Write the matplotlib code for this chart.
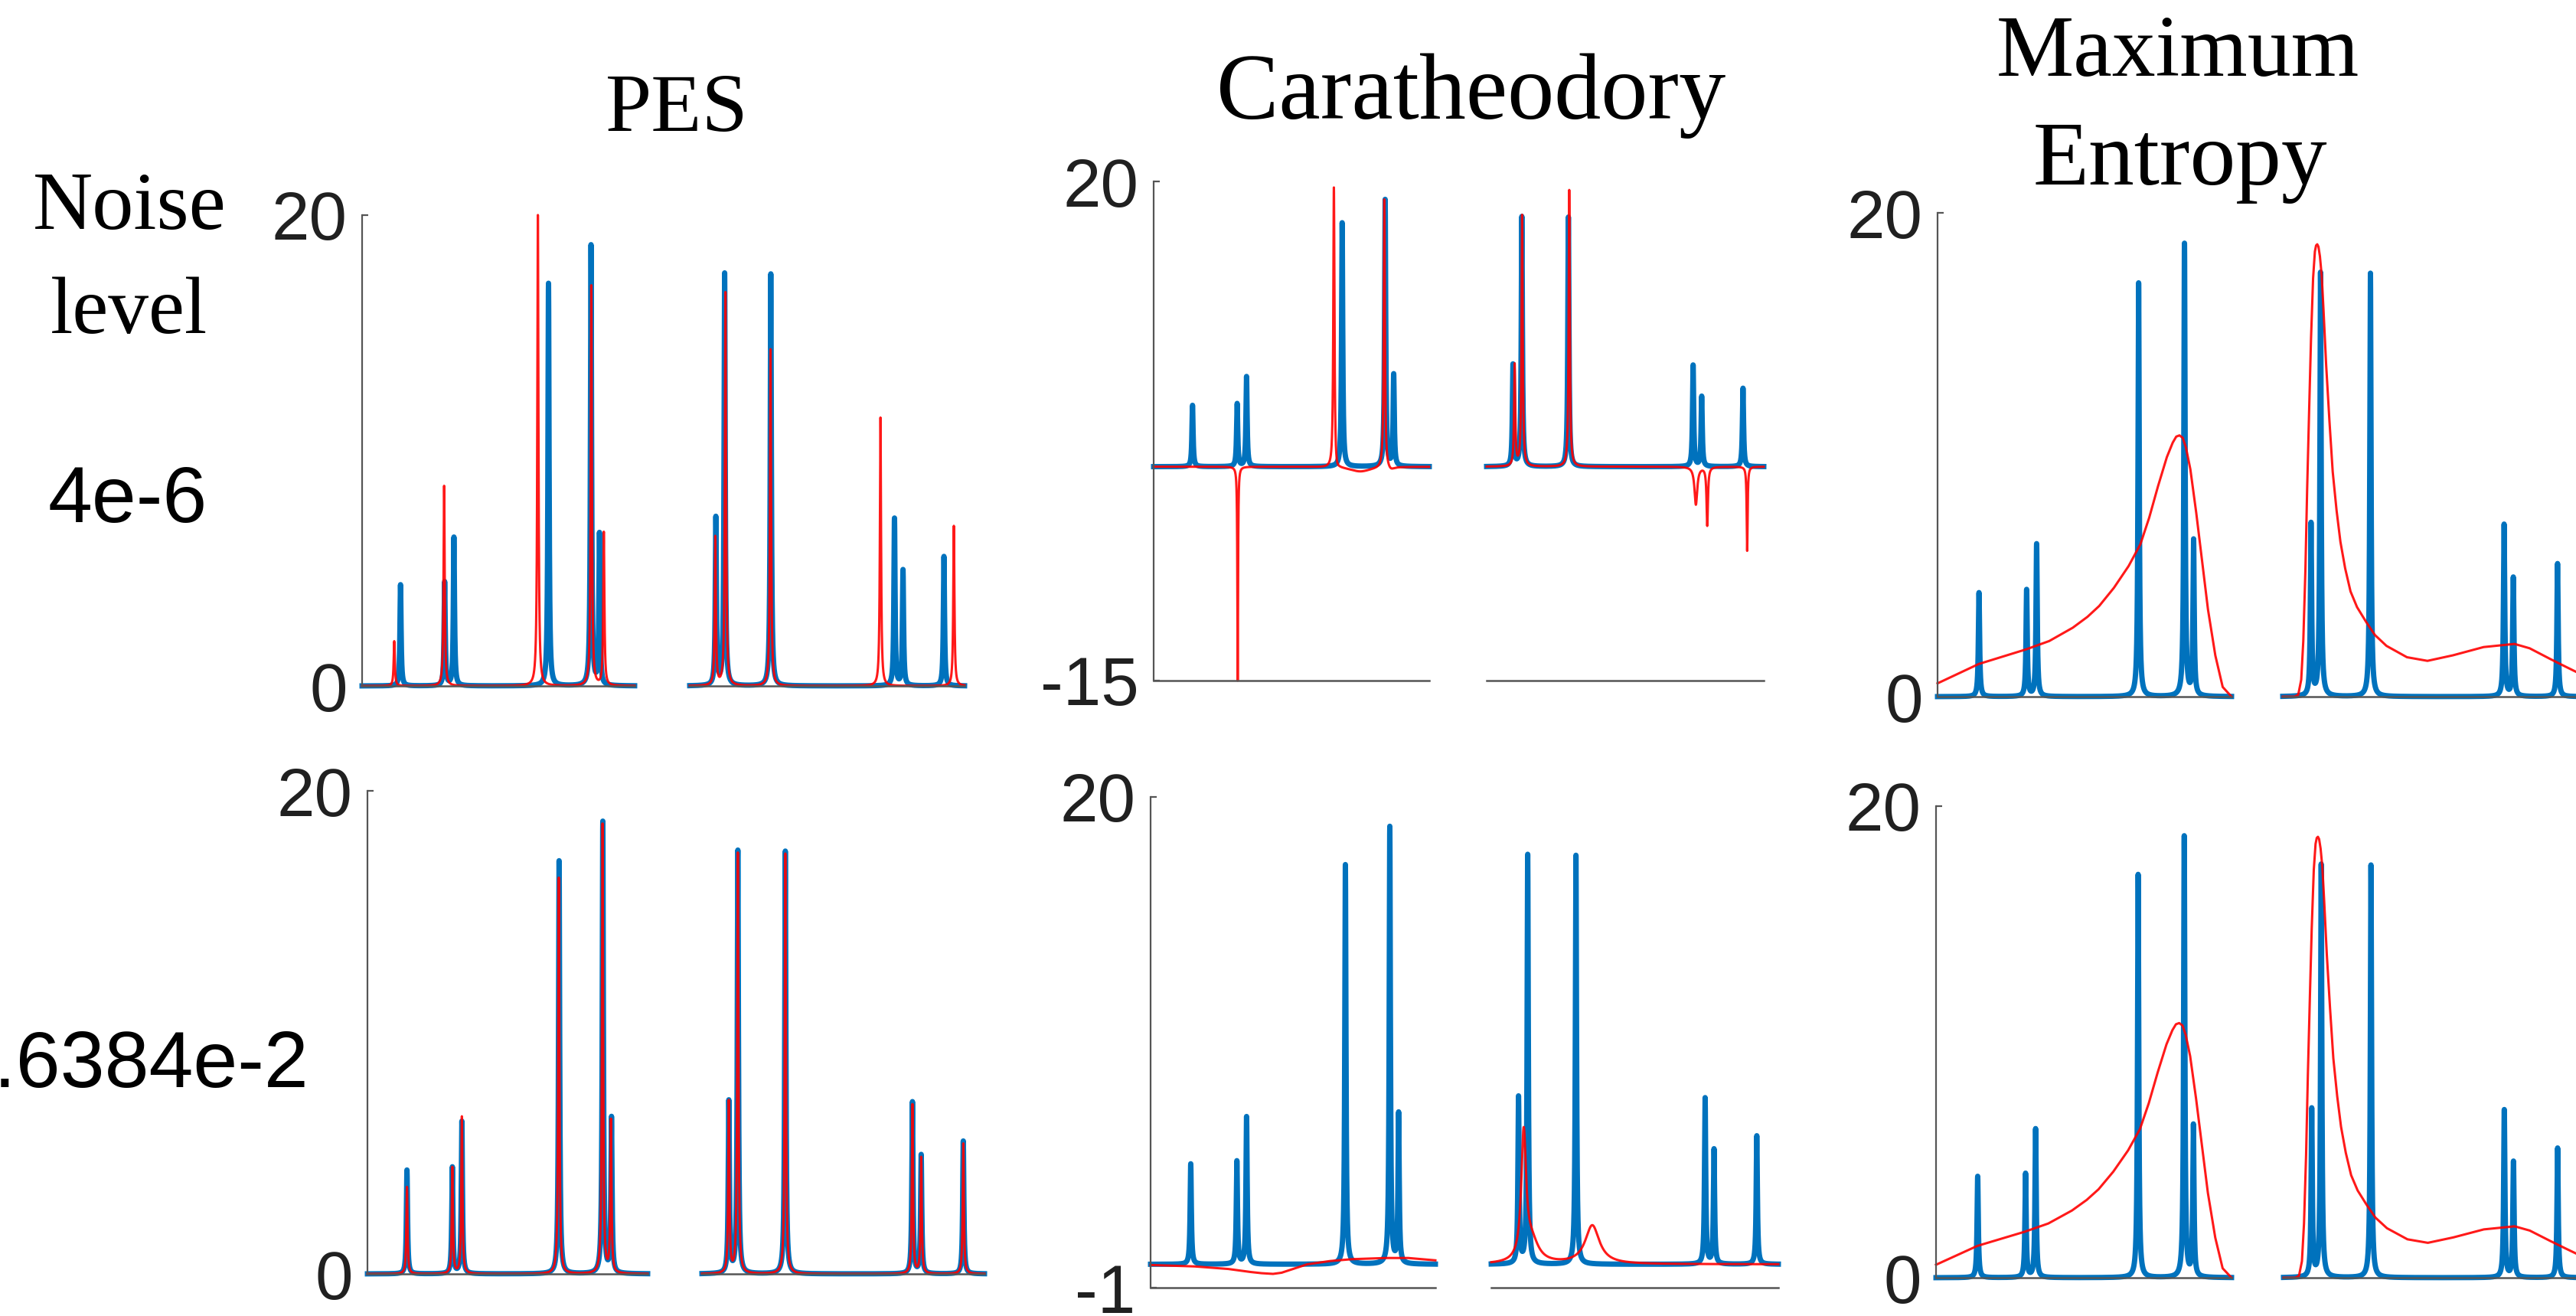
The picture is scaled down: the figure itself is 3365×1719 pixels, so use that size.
import numpy as np
import matplotlib.pyplot as plt

plt.rcParams['axes.unicode_minus'] = False

# ---------------- data (x = position inside each of the two windows, 0..1) ----------------

# exact spectrum (blue), left and right window
true_left_pos = [0.141, 0.303, 0.337, 0.684, 0.840, 0.871]
true_left_amp = [4.3, 4.4, 6.3, 17.1, 18.7, 6.4]
true_right_pos = [0.095, 0.127, 0.295, 0.745, 0.776, 0.925]
true_right_amp = [7.1, 17.5, 17.5, 7.1, 4.9, 5.5]

# PES, noise 4e-6
pes1_left_pos = [0.118, 0.301, 0.645, 0.841, 0.887]
pes1_left_amp = [1.9, 8.5, 20.0, 17.0, 6.5]
pes1_right_pos = [0.093, 0.130, 0.294, 0.694, 0.961]
pes1_right_amp = [6.3, 16.7, 14.3, 11.4, 6.8]

# PES, noise 1.6384e-2
pes2_left_pos = [0.141, 0.303, 0.337, 0.683, 0.839, 0.869]
pes2_left_amp = [3.6, 4.4, 6.5, 16.4, 18.6, 6.3]
pes2_right_pos = [0.095, 0.127, 0.295, 0.745, 0.776, 0.925]
pes2_right_amp = [7.1, 17.4, 17.4, 7.0, 4.8, 5.4]

# Caratheodory, noise 4e-6 (position, height, half width)
cara1_left_pos = [0.305, 0.654, 0.662, 0.75, 0.837, 0.86]
cara1_left_amp = [-15.0, 19.9, -0.5, -0.35, 18.9, -0.25]
cara1_left_hw = [0.0015, 0.0025, 0.008, 0.05, 0.0025, 0.015]
cara1_right_pos = [0.101, 0.128, 0.298, 0.755, 0.796, 0.94]
cara1_right_amp = [7.1, 17.6, 19.4, -2.65, -4.1, -5.9]
cara1_right_hw = [0.0025, 0.0025, 0.0025, 0.006, 0.003, 0.002]

# Caratheodory, noise 1.6384e-2
cara2_left_x = [0.0, 0.154, 0.273, 0.352, 0.39, 0.43, 0.46, 0.49, 0.55, 0.63, 0.708, 0.826, 0.905, 1.0]
cara2_left_y = [-0.03, -0.09, -0.2, -0.33, -0.38, -0.41, -0.36, -0.24, 0.0, 0.14, 0.22, 0.27, 0.27, 0.17]
cara2_right_pos = [0.113, 0.14, 0.352]
cara2_right_amp = [5.35, 0.9, 1.65]
cara2_right_hw = [0.01, 0.03, 0.03]

# Maximum entropy (same picture for both noise levels)
maxent_left_x = [0.0, 0.07, 0.14, 0.22, 0.30, 0.38, 0.46, 0.51, 0.55, 0.60, 0.65, 0.69, 0.72, 0.75,
                 0.78, 0.80, 0.812, 0.823, 0.834, 0.845, 0.86, 0.88, 0.90, 0.92, 0.945, 0.97, 1.0]
maxent_left_y = [0.55, 0.95, 1.35, 1.65, 1.95, 2.3, 2.85, 3.3, 3.75, 4.5, 5.4, 6.3, 7.4, 8.7,
                 9.9, 10.5, 10.75, 10.8, 10.7, 10.3, 9.4, 7.6, 5.6, 3.6, 1.7, 0.4, 0.0]
maxent_right_x = [0.0, 0.04, 0.052, 0.062, 0.069, 0.076, 0.082, 0.089, 0.095, 0.102, 0.108, 0.112,
                  0.116, 0.12, 0.125, 0.131, 0.137, 0.146, 0.157, 0.168, 0.181, 0.194, 0.21, 0.228,
                  0.25, 0.28, 0.31, 0.349, 0.418, 0.487, 0.573, 0.676, 0.78, 0.831, 0.90, 0.952, 1.0]
maxent_right_y = [0.0, 0.0, 0.08, 0.7, 2.3, 5.2, 8.6, 12.0, 14.8, 17.3, 18.4, 18.65,
                  18.7, 18.6, 18.2, 17.4, 16.0, 13.7, 11.4, 9.3, 7.7, 6.4, 5.3, 4.35,
                  3.7, 3.1, 2.55, 2.1, 1.63, 1.48, 1.71, 2.05, 2.18, 2.0, 1.56, 1.24, 0.95]

methods = ['PES', 'Caratheodory', 'Maximum', 'Entropy']
noise_levels = ['4e-6', '1.6384e-2']
ylims = [[(0, 20), (-15, 20), (0, 20)],
         [(0, 20), (-1, 20), (0, 20)]]

# ---------------- drawing ----------------
W, H = 3365, 1719
fig = plt.figure(figsize=(W / 100, H / 100), dpi=100)

def px_box(x0, x1, y0, y1):
    return [x0 / W, 1 - y1 / H, (x1 - x0) / W, (y1 - y0) / H]

xs = np.linspace(0, 1, 6001)
HW = 0.0025

def lorentz(pos, amp, hw=None):
    if hw is None:
        hw = [HW] * len(pos)
    y = np.zeros_like(xs)
    for p, a, w in zip(pos, amp, hw):
        y += a * w ** 2 / (w ** 2 + (xs - p) ** 2)
    return y

blue = (lorentz(true_left_pos, true_left_amp), lorentz(true_right_pos, true_right_amp))

red = {
    (0, 0): ((xs, lorentz(pes1_left_pos, pes1_left_amp)), (xs, lorentz(pes1_right_pos, pes1_right_amp))),
    (1, 0): ((xs, lorentz(pes2_left_pos, pes2_left_amp)), (xs, lorentz(pes2_right_pos, pes2_right_amp))),
    (0, 1): ((xs, lorentz(cara1_left_pos, cara1_left_amp, cara1_left_hw)),
             (xs, lorentz(cara1_right_pos, cara1_right_amp, cara1_right_hw))),
    (1, 1): ((cara2_left_x, cara2_left_y),
             (xs, lorentz(cara2_right_pos, cara2_right_amp, cara2_right_hw))),
    (0, 2): ((maxent_left_x, maxent_left_y), (maxent_right_x, maxent_right_y)),
    (1, 2): ((maxent_left_x, maxent_left_y), (maxent_right_x, maxent_right_y)),
}

# pixel boxes of the two windows of each panel
boxes = {
    (0, 0): ((473, 829, 281, 896), (901, 1260, 281, 896)),
    (0, 1): ((1507, 1867, 237, 889), (1942, 2304, 237, 889)),
    (0, 2): ((2531, 2915, 278, 910), (2982, 3370, 278, 910)),
    (1, 0): ((480, 846, 1033, 1664), (917, 1286, 1033, 1664)),
    (1, 1): ((1503, 1875, 1041, 1682), (1948, 2323, 1041, 1682)),
    (1, 2): ((2529, 2915, 1053, 1669), (2983, 3370, 1053, 1669)),
}

axcol = '#555555'
for (r, c), pair in boxes.items():
    lo, hi = ylims[r][c]
    for k in range(2):
        ax = fig.add_axes(px_box(*pair[k]))
        ax.set_xlim(0, 1)
        ax.set_ylim(lo, hi)
        ax.plot(xs, blue[k], color='#0072BD', lw=5, solid_joinstyle='round', clip_on=False)
        rx, ry = red[(r, c)][k]
        ax.plot(rx, ry, color='#FF0000', lw=2.2, alpha=0.9, clip_on=False)
        for s in ['top', 'right']:
            ax.spines[s].set_visible(False)
        ax.spines['bottom'].set_color(axcol)
        ax.spines['bottom'].set_linewidth(1.8)
        ax.set_xticks([])
        if k == 0:
            ax.spines['left'].set_color(axcol)
            ax.spines['left'].set_linewidth(1.6)
            ax.set_yticks([lo, hi])
            ax.set_yticklabels([str(lo), str(hi)], family='Liberation Sans', color='#202020')
            ax.tick_params(axis='y', direction='in', length=6, width=1.6, color=axcol,
                           labelsize=64, pad=14)
        else:
            ax.spines['left'].set_visible(False)
            ax.set_yticks([])
        ax.patch.set_alpha(0)

# column titles
fig.text(884 / W, 1 - 171 / H, methods[0], ha='center', va='baseline', family='Liberation Serif', size=78)
fig.text(1922 / W, 1 - 155 / H, methods[1], ha='center', va='baseline', family='Liberation Serif', size=88)
fig.text(2845 / W, 1 - 99 / H, methods[2], ha='center', va='baseline', family='Liberation Serif', size=82)
fig.text(2848 / W, 1 - 241 / H, methods[3], ha='center', va='baseline', family='Liberation Serif', size=86)

# row labels
fig.text(169 / W, 1 - 299 / H, 'Noise', ha='center', va='baseline', family='Liberation Serif', size=78)
fig.text(169 / W, 1 - 435 / H, 'level', ha='center', va='baseline', family='Liberation Serif', size=76)
fig.text(167 / W, 1 - 682 / H, noise_levels[0], ha='center', va='baseline', family='Liberation Sans', size=75)
fig.text(403 / W, 1 - 1420 / H, noise_levels[1], ha='right', va='baseline', family='Liberation Sans', size=75)

fig.savefig('out.png', dpi=100)
